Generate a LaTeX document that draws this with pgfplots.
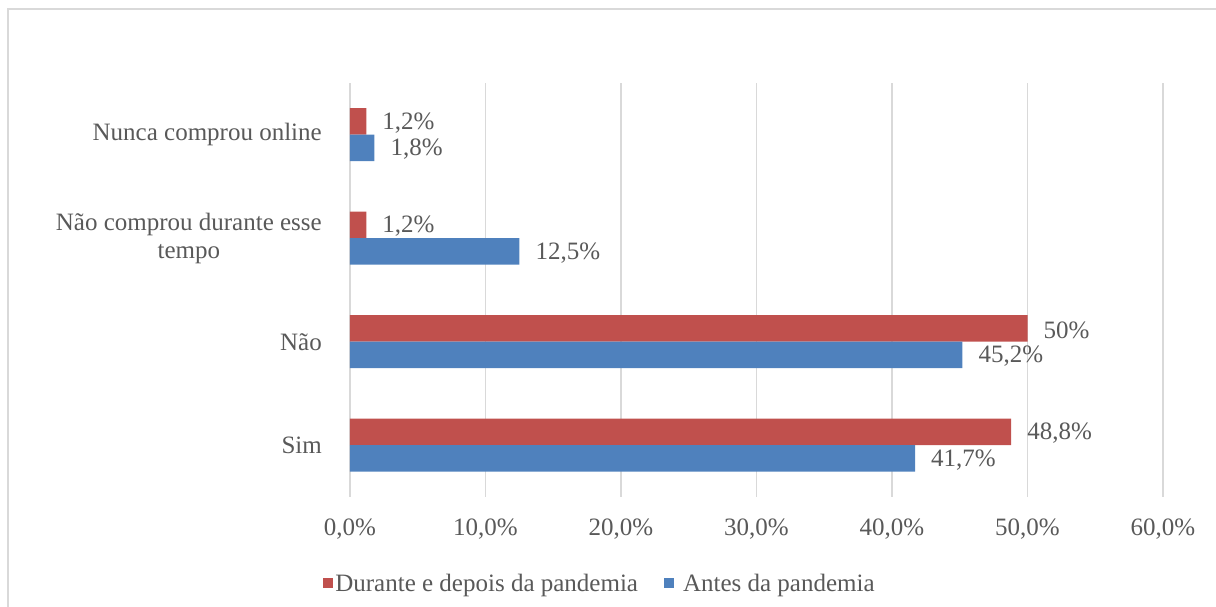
\documentclass[border=0pt]{standalone}
\usepackage{pgfplots}
\pgfplotsset{compat=1.18}
\usepackage{fontspec}
\setmainfont{Liberation Serif}
\definecolor{cred}{HTML}{C0504D}
\definecolor{cblue}{HTML}{4F81BD}
\definecolor{ctext}{HTML}{595959}
\definecolor{cgrid}{HTML}{D9D9D9}
\begin{document}
\begin{tikzpicture}
\path[use as bounding box] (0,0) rectangle (1216pt,607pt);
\draw[cgrid, line width=2pt] (8pt,0) -- (8pt,598pt) -- (1216pt,598pt);
\begin{axis}[
  at={(350pt,110pt)}, anchor=south west, scale only axis,
  width=813pt, height=414pt,
  xbar, bar width=26.5pt,
  xmin=0, xmax=60, ymin=-0.5, ymax=3.5,
  xtick={0,10,20,30,40,50,60},
  xticklabels={{0,0\%},{10,0\%},{20,0\%},{30,0\%},{40,0\%},{50,0\%},{60,0\%}},
  ytick={0,1,2,3},
  yticklabels={Sim,Não,{Não comprou durante esse\\tempo},Nunca comprou online},
  yticklabel style={align=center, inner sep=0pt, xshift=-28pt},
  xticklabel style={inner sep=0pt, yshift=-22pt},
  axis line style={draw=none}, major tick length=0pt,
  xmajorgrids, grid style={color=cgrid, line width=1.5pt},
  tick label style={font=\fontsize{25}{28}\selectfont, text=ctext},
  nodes near coords, point meta=explicit symbolic,
  nodes near coords style={anchor=west, inner sep=0pt, xshift=16pt, yshift=-1.5pt, font=\fontsize{25}{28}\selectfont, text=ctext},
  legend style={draw=none, at={(0.3075,-0.208)}, anchor=center, legend columns=2,
    font=\fontsize{25}{28}\selectfont, text=ctext,
    /tikz/every even column/.append style={column sep=24pt}},
  legend image code/.code={\fill[#1] (0pt,-5pt) rectangle (10pt,5pt);},
]
\addplot[fill=cred, draw=none, bar shift=13.25pt] coordinates {
  (48.8,0) [48,8\%]
  (50,1) [50\%]
  (1.2,2) [1,2\%]
  (1.2,3) [1,2\%]
};
\addlegendentry{Durante e depois da pandemia}
\addplot[fill=cblue, draw=none, bar shift=-13.25pt] coordinates {
  (41.7,0) [41,7\%]
  (45.2,1) [45,2\%]
  (12.5,2) [12,5\%]
  (1.8,3) [1,8\%]
};
\addlegendentry{\hspace*{7pt}Antes da pandemia}
\end{axis}
\end{tikzpicture}
\end{document}
